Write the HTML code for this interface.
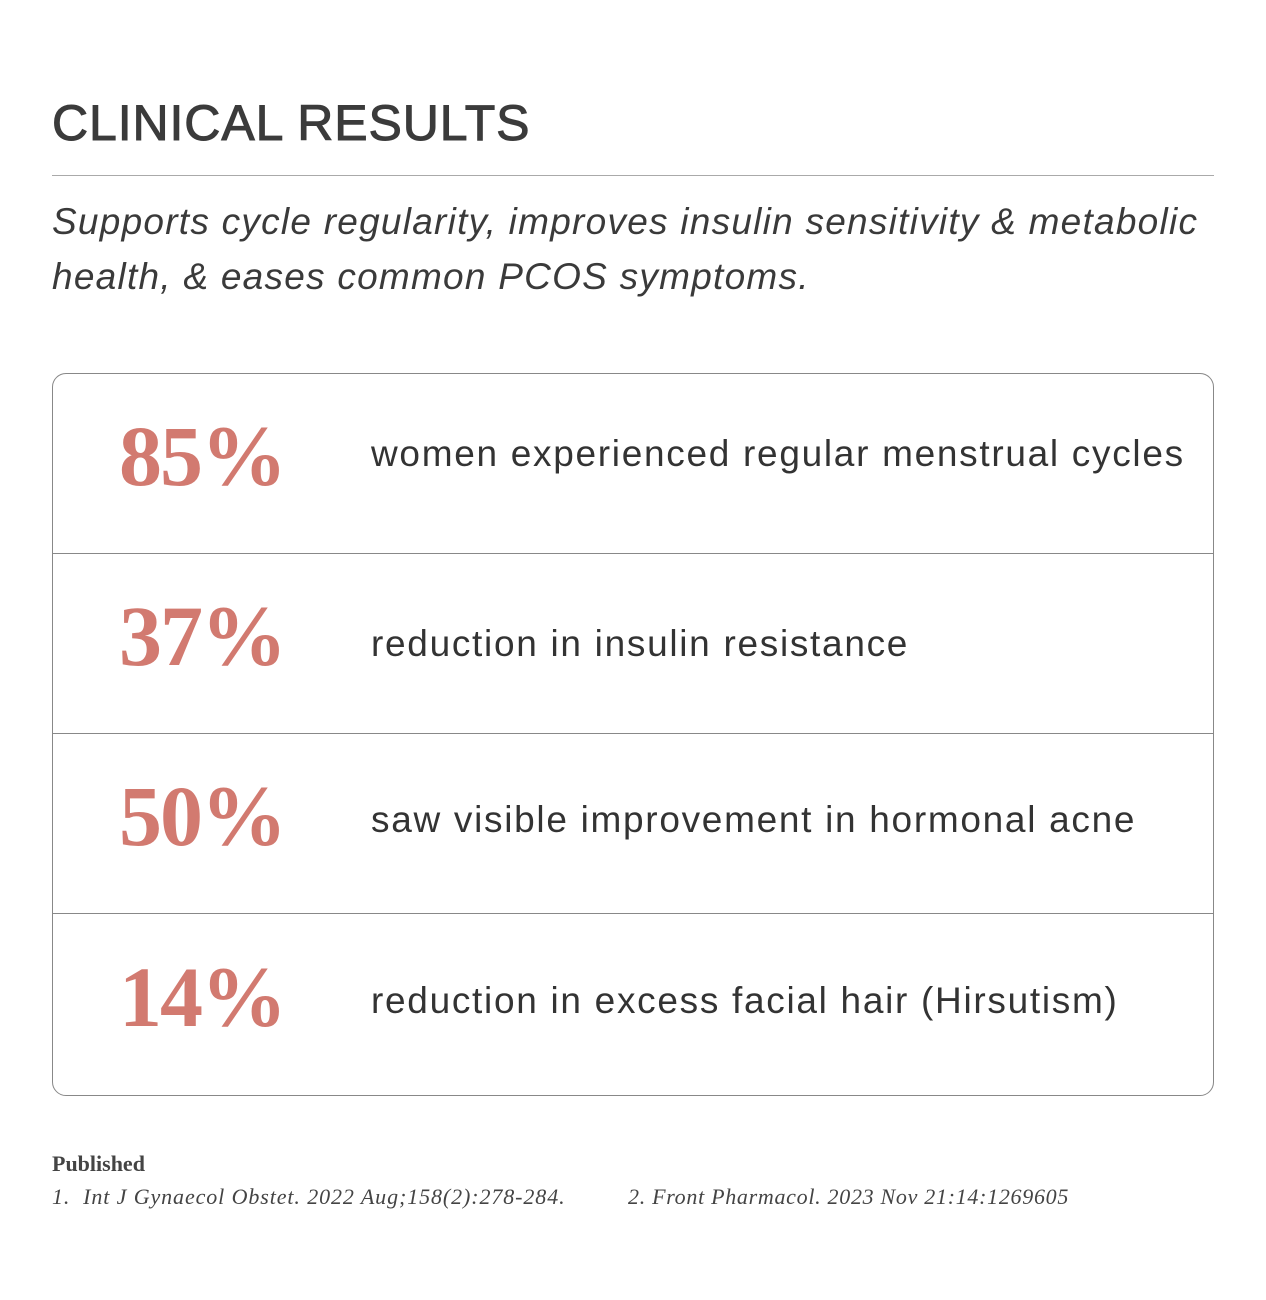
<!DOCTYPE html>
<html><head><meta charset="utf-8"><style>
*{margin:0;padding:0;box-sizing:border-box}
body{width:1266px;height:1300px;background:#fff;position:relative;font-family:"Liberation Sans",sans-serif;color:#3a3a3a;overflow:hidden}
.t{position:absolute;left:52px;top:94px;font-size:50px;letter-spacing:0.9px;color:#3b3b3b;white-space:nowrap;-webkit-text-stroke:1px #3b3b3b}
.rule{position:absolute;left:52px;top:175px;width:1162px;height:1px;background:#aaa}
.sub{position:absolute;left:52px;top:194px;font-size:37px;font-style:italic;line-height:55px;color:#3a3a3a;width:1200px;letter-spacing:1.25px}
.box{position:absolute;left:52px;top:373px;width:1162px;height:723px;border:1px solid #888;border-radius:14px}
.row{position:absolute;left:0;width:1160px;height:180px;border-bottom:1px solid #888}
.row:last-child{border-bottom:none}
.p{position:absolute;left:66px;font-family:"Liberation Serif",serif;font-weight:bold;font-size:86px;color:#d27a70;letter-spacing:-2px}
.d{position:absolute;left:318px;font-size:37px;color:#333;white-space:nowrap;letter-spacing:1.7px}
.pub{position:absolute;left:52px;top:1151px;font-family:"Liberation Serif",serif;font-weight:bold;font-size:22px;color:#444}
.ref{position:absolute;top:1184px;font-family:"Liberation Serif",serif;font-style:italic;font-size:22px;color:#444;white-space:nowrap}
</style></head><body>
<div class="t">CLINICAL RESULTS</div>
<div class="rule"></div>
<div class="sub">Supports cycle regularity, improves insulin sensitivity &amp; metabolic health, &amp; eases common PCOS symptoms.</div>
<div class="box">
<div class="row" style="top:0"><div class="p" style="top:32px">85%</div><div class="d" style="top:59px">women experienced regular menstrual cycles</div></div>
<div class="row" style="top:180px"><div class="p" style="top:32px">37%</div><div class="d" style="top:69px">reduction in insulin resistance</div></div>
<div class="row" style="top:360px"><div class="p" style="top:32px">50%</div><div class="d" style="top:65px">saw visible improvement in hormonal acne</div></div>
<div class="row" style="top:541px;height:180px"><div class="p" style="top:32px">14%</div><div class="d" style="top:65px">reduction in excess facial hair (Hirsutism)</div></div>
</div>
<div class="pub">Published</div>
<div class="ref" style="left:52px;letter-spacing:0.9px">1.&nbsp; Int J Gynaecol Obstet. 2022 Aug;158(2):278-284.</div>
<div class="ref" style="left:628px;letter-spacing:0.7px">2. Front Pharmacol. 2023 Nov 21:14:1269605</div>
</body></html>
